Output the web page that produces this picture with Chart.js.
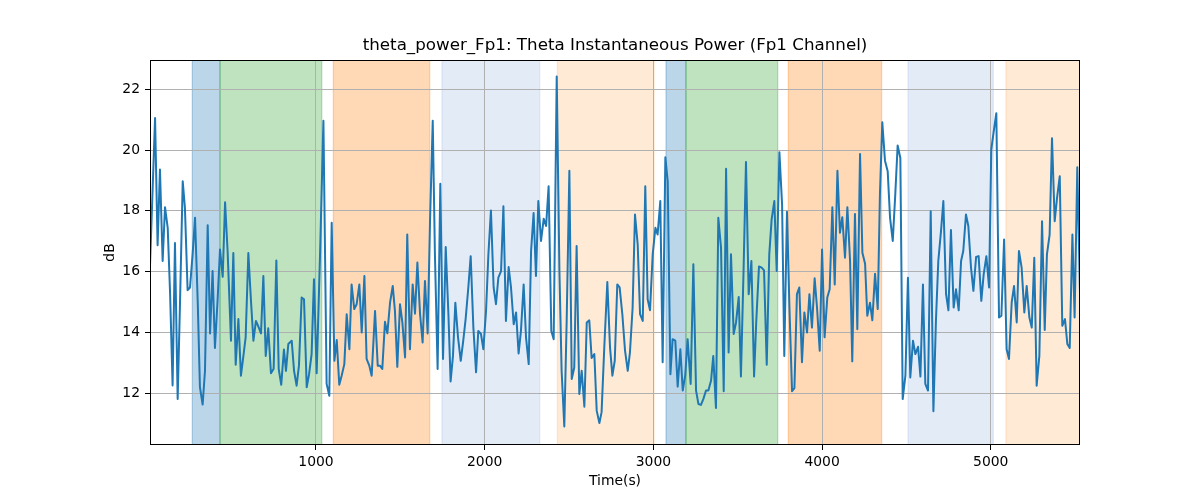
<!DOCTYPE html>
<html><head><meta charset="utf-8">
<script src="https://cdn.jsdelivr.net/npm/chart.js@4.4.1/dist/chart.umd.min.js"></script>
<style>html,body{margin:0;padding:0;background:#fff;} #wrap{width:1200px;height:500px;}</style>
</head><body><div id="wrap"><canvas id="c" width="1200" height="500"></canvas></div>
<script>
const times = [
16,46,61,75,91,105,121,135,150,164,180,194,210,223,239,253,269,283,299,312,328,342,358,372,387,401,417,431,447,461,476,496,510,524,540,555,569,583,599,615,629,644,658,674,688,702,717,733,749,765,779,794,810,
822,836,856,870,885,899,915,929,945,959,974,988,1004,1024,1044,1063,1079,1093,1109,1123,1138,1152,1168,1182,1198,1211,1227,1241,1257,1271,1287,1300,1316,1330,1350,1366,1379,1393,1409,1423,1439,1455,1468,1482,1498,1512,1528,1541,1557,1573,1587,1601,
1617,1632,1646,1662,1676,1692,1705,1721,1737,1753,1769,1785,1798,1812,1826,1842,1858,1873,1887,1903,1917,1933,1949,1962,1978,1992,2008,2022,2037,2053,2067,2081,2097,2111,2126,2142,2156,2172,2186,2201,2215,2231,2245,2261,2275,2290,2304,2318,2334,2350,2364,2379,2395,2409,
2427,2443,2456,2472,2486,2502,2516,2531,2545,2561,2575,2591,2605,2620,2634,2650,2664,2680,2693,2709,2727,2743,2757,2771,2786,2800,2816,2832,2848,2861,2877,2891,2907,2921,2937,2952,2966,2980,2996,3012,3025,3041,3055,3071,3085,3101,3114,3130,3144,3160,3174,3189,3203,
3221,3237,3253,3267,3282,3296,3312,3326,3342,3355,3371,3385,3401,3417,3431,3446,3460,3476,3490,3506,3519,3535,3549,3565,3581,3597,3610,3626,3642,3656,3672,3687,3701,3717,3731,3747,3763,3776,3792,3806,3822,3836,3851,3865,3881,3895,3911,3925,3940,3956,3970,3986,4000,4015,
4031,4045,4061,4075,4091,4106,4120,4136,4150,4166,4179,4195,4209,4225,4239,4255,4268,4284,4298,4314,4330,4343,4357,4373,4389,4403,4419,4434,4448,4464,4478,4494,4509,4523,4539,4553,4569,4583,4598,4612,4628,4644,4660,4675,4689,4705,4719,4735,4749,4764,4780,4794,4810,
4824,4837,4853,4867,4883,4897,4913,4928,4944,4958,4974,4990,5003,5019,5033,5049,5063,5079,5094,5108,5124,5138,5154,5167,5183,5199,5213,5229,5243,5258,5272,5288,5304,5320,5333,5349,5363,5379,5393,5409,5424,5440,5454,5468,5484,5497,5513,5529
];
const values = [
16.2,21.05,16.87,19.36,16.35,18.12,17.44,15.3,12.26,16.94,11.81,15.0,18.97,18.1,15.39,15.48,16.6,17.77,15.0,12.2,11.63,12.74,17.53,13.97,16.02,13.49,15.1,16.73,15.83,18.28,16.68,13.73,16.61,12.94,14.44,12.58,13.2,13.84,16.61,15.0,13.73,14.38,14.2,13.97,15.86,13.23,14.14,12.66,12.81,16.37,12.8,12.28,13.44,
12.74,13.62,13.73,12.74,12.25,12.91,15.15,15.09,12.2,12.63,13.29,15.75,12.66,16.57,20.96,12.31,11.92,17.61,13.07,13.75,12.28,12.58,12.96,14.6,13.45,15.58,14.77,14.93,15.58,14.0,15.86,13.13,12.91,12.58,14.71,12.91,12.91,12.8,14.35,13.97,14.98,15.53,14.71,12.87,14.93,14.33,13.18,17.22,13.45,15.58,14.62,16.3,
14.6,13.67,15.69,13.97,17.66,20.96,16.57,12.8,18.89,13.13,16.81,14.6,12.39,13.23,14.98,13.84,13.07,13.73,14.44,15.48,16.51,14.16,12.69,14.05,13.95,13.45,14.71,16.57,18.01,15.48,14.93,15.8,16.02,18.15,14.38,16.15,15.48,14.27,14.66,13.31,14.05,15.58,13.84,12.96,16.68,17.93,15.86,18.32,17.01,17.74,17.5,18.81,14.05,13.78,
22.42,16.02,12.74,10.91,14.38,19.32,12.47,12.85,16.84,11.98,12.74,11.56,14.33,14.4,13.16,13.29,11.43,11.02,11.38,13.51,15.66,13.51,12.58,13.07,15.58,15.48,14.6,13.4,12.74,13.34,14.82,17.88,16.9,14.6,14.38,18.81,15.09,14.73,16.57,17.44,17.22,18.32,13.02,19.76,18.97,12.63,13.78,13.73,12.22,13.45,12.09,12.6,13.78,
12.31,16.24,12.09,11.65,11.62,11.81,12.09,12.09,12.42,13.23,11.52,17.77,16.79,12.07,19.38,13.34,16.57,13.95,14.33,15.17,12.55,16.13,19.61,15.26,16.35,12.55,14.38,16.17,16.13,16.04,12.94,16.57,17.72,18.32,16.02,19.93,18.21,13.23,17.97,14.93,12.07,12.17,15.26,15.48,13.02,14.66,14.0,15.26,14.16,15.78,14.82,13.4,16.73,13.84,
15.15,15.42,18.12,15.58,19.32,17.28,17.79,16.46,18.12,16.35,13.05,17.9,14.11,19.87,16.62,16.26,14.55,14.98,14.4,15.93,14.77,18.54,20.91,19.65,19.3,17.77,17.01,18.54,20.15,19.74,11.81,12.58,15.8,12.52,13.73,13.29,13.53,12.55,15.58,12.31,12.09,17.99,11.41,14.38,16.35,17.33,18.32,15.26,14.73,17.37,14.82,15.42,14.73,
16.35,16.68,17.88,17.5,16.13,15.37,16.48,16.51,15.04,15.91,16.51,15.48,20.01,20.67,21.21,14.49,14.55,17.06,13.45,13.13,14.98,15.53,14.33,16.68,16.13,14.66,15.53,14.49,14.16,16.46,12.25,13.23,17.66,14.08,16.57,17.22,20.39,17.66,18.43,19.14,14.22,14.44,13.62,13.49,17.22,14.49,19.43,15.31
];
const xTicks = [1000, 2000, 3000, 4000, 5000];
const yTicks = [12, 14, 16, 18, 20, 22];
const bandStart = [267, 431, 1103, 1747, 2431, 3075, 3193, 3800, 4510, 5090];
const bandEnd   = [431, 1034, 1674, 2326, 3004, 3193, 3737, 4353, 5015, 5529];
const bandKind  = ['blue','green','orange','lightblue','lightorange','blue','green','orange','lightblue','lightorange'];
const titleText = 'theta_power_Fp1: Theta Instantaneous Power (Fp1 Channel)';

const bandColors = {
  blue: 'rgba(31,119,180,0.3)',
  green: 'rgba(44,160,44,0.3)',
  orange: 'rgba(255,127,14,0.3)',
  lightblue: 'rgba(174,199,232,0.35)',
  lightorange: 'rgba(255,187,120,0.3)'
};

Chart.defaults.font.family = "'DejaVu Sans', sans-serif";
Chart.defaults.color = '#000';

const bandPlugin = {
  id: 'bands',
  beforeDraw(chart) {
    const {ctx, chartArea: a, scales: {x}} = chart;
    ctx.save();
    ctx.beginPath();
    ctx.rect(a.left, a.top, a.right - a.left, a.bottom - a.top);
    ctx.clip();
    for (let i = 0; i < bandStart.length; i++) {
      const x0 = x.getPixelForValue(bandStart[i]);
      const x1 = x.getPixelForValue(bandEnd[i]);
      const c = bandColors[bandKind[i]];
      ctx.fillStyle = c;
      ctx.fillRect(x0, a.top, x1 - x0, a.bottom - a.top);
      ctx.strokeStyle = c;
      ctx.lineWidth = 1.3;
      ctx.strokeRect(x0, a.top, x1 - x0, a.bottom - a.top);
    }
    ctx.restore();
  }
};

const framePlugin = {
  id: 'frame',
  afterDraw(chart) {
    const {ctx, chartArea: a} = chart;
    ctx.save();
    ctx.strokeStyle = '#000';
    ctx.lineWidth = 1;
    const l = Math.round(a.left) + 0.5, r = Math.round(a.right) - 0.5;
    const t = Math.round(a.top) + 0.5, b = Math.round(a.bottom) - 0.5;
    ctx.strokeRect(l, t, r - l, b - t);
    ctx.fillStyle = '#000';
    ctx.font = "16.7px 'DejaVu Sans', sans-serif";
    ctx.textAlign = 'center';
    ctx.textBaseline = 'middle';
    ctx.fillText(titleText, (a.left + a.right) / 2, 46);
    ctx.restore();
  }
};

new Chart(document.getElementById('c'), {
  type: 'line',
  data: {
    datasets: [{
      data: times.map((t, i) => ({x: t, y: values[i]})),
      borderColor: '#1f77b4',
      borderWidth: 2,
      pointRadius: 0,
      tension: 0,
      fill: false,
      borderJoinStyle: 'round'
    }]
  },
  options: {
    responsive: false,
    animation: false,
    devicePixelRatio: 1,
    layout: {padding: {left: 0, right: 120, top: 60, bottom: 0}},
    plugins: {
      legend: {display: false},
      tooltip: {enabled: false},
      title: {display: false}
    },
    scales: {
      x: {
        type: 'linear',
        min: 16, max: 5529,
        afterBuildTicks: s => { s.ticks = xTicks.map(v => ({value: v})); },
        afterFit: s => { s.height = 55; },
        grid: {color: '#b0b0b0', lineWidth: 1, tickColor: '#000', tickLength: 5, drawTicks: true},
        border: {display: false},
        ticks: {color: '#000', font: {size: 13.9}, padding: 4, maxRotation: 0, autoSkip: false, callback: v => String(v)},
        title: {display: true, text: 'Time(s)', color: '#000', font: {size: 13.9}, padding: {top: 0, bottom: 10}}
      },
      y: {
        type: 'linear',
        min: 10.30, max: 22.96,
        afterBuildTicks: s => { s.ticks = yTicks.map(v => ({value: v})); },
        afterFit: s => { s.width = 150; },
        grid: {color: '#b0b0b0', lineWidth: 1, tickColor: '#000', tickLength: 5, drawTicks: true},
        border: {display: false},
        ticks: {color: '#000', font: {size: 13.9}, padding: 5, autoSkip: false, callback: v => String(v)},
        title: {display: true, text: 'dB', color: '#000', font: {size: 13.9}, padding: {top: 102, bottom: 0}}
      }
    }
  },
  plugins: [bandPlugin, framePlugin]
});
</script>
</body></html>
